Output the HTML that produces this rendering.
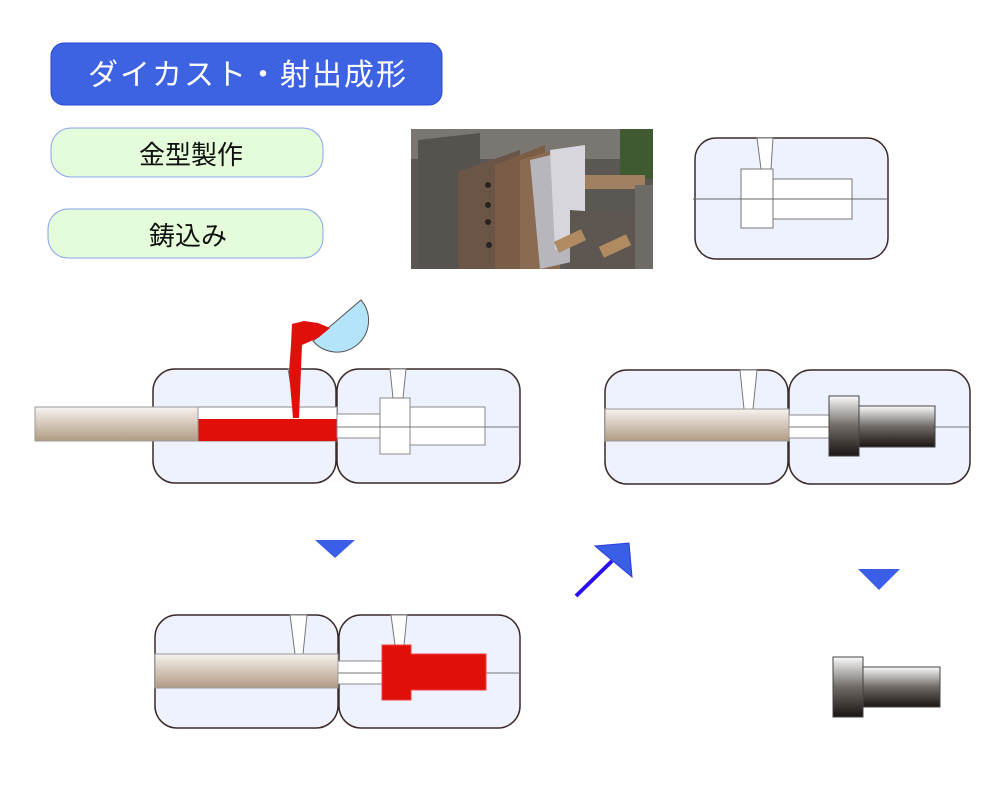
<!DOCTYPE html>
<html><head><meta charset="utf-8"><style>
html,body{margin:0;padding:0;background:#fff}
svg{display:block}
text{font-family:"Liberation Sans","Noto Sans CJK JP",sans-serif}
</style></head><body>
<svg width="1000" height="800" viewBox="0 0 1000 800" xmlns="http://www.w3.org/2000/svg">
<defs>
<linearGradient id="tan" x1="0" y1="0" x2="0" y2="1"><stop offset="0" stop-color="#f7f3ef"/><stop offset="1" stop-color="#b09a82"/></linearGradient>
<linearGradient id="steel" x1="0" y1="0" x2="0" y2="1"><stop offset="0" stop-color="#fbfbfb"/><stop offset="0.5" stop-color="#6f6a66"/><stop offset="1" stop-color="#1a1512"/></linearGradient>
</defs>

<rect x="51" y="43" width="391" height="62" rx="13" fill="#3d62e2" stroke="#2a48d0"/>
<text x="248" y="85" font-size="30" fill="#fff" text-anchor="middle" letter-spacing="2">ダイカスト・射出成形</text>
<rect x="51" y="128" width="272" height="49" rx="20" fill="#e4fcd9" stroke="#8aa2ea"/>
<text x="191" y="164" font-size="26" fill="#111" text-anchor="middle">金型製作</text>
<rect x="48" y="209" width="275" height="49" rx="20" fill="#e4fcd9" stroke="#8aa2ea"/>
<text x="188" y="245" font-size="26" fill="#111" text-anchor="middle">鋳込み</text>

<g>
<rect x="411" y="129" width="242" height="140" fill="#5b5753"/>
<rect x="411" y="129" width="242" height="30" fill="#7a7672"/>
<rect x="620" y="129" width="33" height="50" fill="#3f5a30"/>
<polygon points="418,140 480,133 480,269 418,269" fill="#56524d"/>
<polygon points="458,172 520,150 520,269 458,269" fill="#6b5546"/>
<polygon points="495,165 545,145 545,269 495,269" fill="#7b5c44"/>
<polygon points="520,160 560,148 560,269 520,269" fill="#8a6a50"/>
<polygon points="530,160 580,148 580,260 540,269" fill="#b6b6bc"/>
<polygon points="550,150 585,145 585,240 555,250" fill="#d6d6dc"/>
<rect x="585" y="175" width="60" height="14" fill="#a08060"/>
<polygon points="570,210 640,215 640,269 570,269" fill="#5e5650"/>
<rect x="555" y="235" width="30" height="12" fill="#b08a60" transform="rotate(-25 570 241)"/>
<rect x="600" y="240" width="30" height="12" fill="#b08a60" transform="rotate(-25 615 246)"/>
<rect x="635" y="185" width="18" height="84" fill="#6e6a66"/>
<circle cx="488" cy="185" r="3" fill="#2a2420"/><circle cx="488" cy="205" r="3" fill="#2a2420"/><circle cx="488" cy="222" r="3" fill="#2a2420"/><circle cx="489" cy="245" r="3" fill="#2a2420"/>
</g>

<rect x="695" y="138" width="193" height="121" rx="21" fill="#eef2fe" stroke="#3a2a28" stroke-width="1.5"/>
<polygon points="757,138 773,138 771,169 761,169" fill="#fff" stroke="#777"/>
<rect x="773" y="179" width="79" height="40" fill="#fff" stroke="#777"/>
<rect x="741" y="169" width="32" height="59" fill="#fff" stroke="#777"/>
<line x1="693" y1="199" x2="888" y2="199" stroke="#666"/>

<rect x="153" y="369" width="183" height="114" rx="22" fill="#eef2fe" stroke="#3a2a28" stroke-width="1.5"/>
<rect x="337" y="369" width="183" height="114" rx="22" fill="#eef2fe" stroke="#3a2a28" stroke-width="1.5"/>
<polygon points="288,369 300,369 297,398 293,398" fill="#fff" stroke="#777"/>
<rect x="198" y="407" width="139" height="34" fill="#fff" stroke="#888"/>
<rect x="198" y="419" width="139" height="22" fill="#e00f0a"/>
<rect x="337" y="414" width="43" height="24" fill="#fff" stroke="#888"/>
<rect x="410" y="407" width="75" height="38" fill="#fff" stroke="#888"/>
<rect x="380" y="398" width="30" height="56" fill="#fff" stroke="#888"/>
<polygon points="390,369 406,369 403,398 393,398" fill="#fff" stroke="#777"/>
<line x1="337" y1="427" x2="520" y2="427" stroke="#777"/>
<rect x="35" y="407" width="163" height="34" fill="url(#tan)" stroke="#999"/>
<path d="M313,341 L361,300 A31,31 0 0 1 313,341 Z" fill="#b4e4fa" stroke="#555"/>
<polygon points="292,324 304,321 318,323 330,328 318,338 302,345 299,418 293,418 289,372 291,345" fill="#e00f0a"/>

<rect x="605" y="370" width="183" height="114" rx="22" fill="#eef2fe" stroke="#3a2a28" stroke-width="1.5"/>
<rect x="789" y="370" width="181" height="114" rx="22" fill="#eef2fe" stroke="#3a2a28" stroke-width="1.5"/>
<polygon points="740,370 757,370 753,409 744,409" fill="#fff" stroke="#777"/>
<rect x="789" y="415" width="40" height="23" fill="#fff" stroke="#888"/>
<line x1="789" y1="427" x2="829" y2="427" stroke="#777"/>
<line x1="935" y1="427" x2="970" y2="427" stroke="#777"/>
<rect x="605" y="409" width="184" height="32" fill="url(#tan)" stroke="#999"/>
<rect x="859" y="406" width="76" height="41" fill="url(#steel)" stroke="#444"/>
<rect x="829" y="396" width="30" height="60" fill="url(#steel)" stroke="#444"/>

<rect x="155" y="615" width="183" height="113" rx="22" fill="#eef2fe" stroke="#3a2a28" stroke-width="1.5"/>
<rect x="339" y="615" width="181" height="113" rx="22" fill="#eef2fe" stroke="#3a2a28" stroke-width="1.5"/>
<polygon points="290,615 307,615 303,654 295,654" fill="#fff" stroke="#777"/>
<polygon points="391,615 407,615 404,645 395,645" fill="#fff" stroke="#777"/>
<rect x="338" y="661" width="44" height="23" fill="#fff" stroke="#888"/>
<line x1="338" y1="673" x2="382" y2="673" stroke="#777"/>
<line x1="486" y1="673" x2="520" y2="673" stroke="#777"/>
<rect x="155" y="654" width="183" height="34" fill="url(#tan)" stroke="#999"/>
<polygon points="382,645 411,645 411,654 486,654 486,690 411,690 411,700 382,700" fill="#e00f0a" stroke="#f04040"/>

<polygon points="315,540 355,540 335,558" fill="#3a5ee6"/>
<polygon points="858,569 900,569 879,590" fill="#3a5ee6"/>
<line x1="576" y1="596" x2="612" y2="561" stroke="#2a10f0" stroke-width="4"/>
<polygon points="595,546 629,543 632,577" fill="#3a5ee6" stroke="#2a3ae8"/>

<rect x="863" y="667" width="77" height="40" fill="url(#steel)" stroke="#444"/>
<rect x="833" y="657" width="30" height="60" fill="url(#steel)" stroke="#444"/>
</svg>
</body></html>
